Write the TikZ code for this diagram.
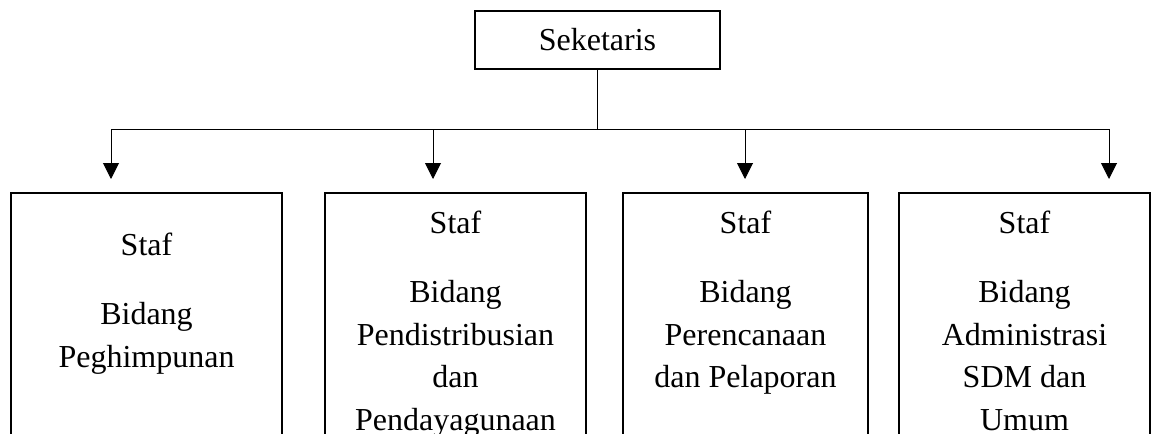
\documentclass[tikz,border=0pt]{standalone}
\usepackage{fontspec}
\setmainfont{Liberation Serif}
\usetikzlibrary{shapes,arrows.meta,positioning,calc}

\begin{document}
\begin{tikzpicture}[x=0.5pt,y=-0.5pt,
	headbox/.style={draw, line width=1pt, minimum width=122.5pt, minimum height=29pt, inner sep=0pt, font=\fontsize{16}{21.25}\selectfont},
	staffbox/.style={draw, line width=1pt, anchor=north, minimum height=144pt, inner sep=0pt},
	stafftext/.style={anchor=north, align=center, inner sep=0pt, font=\fontsize{16}{21.25}\selectfont},
	link/.style={line width=0.5pt},
	down/.style={link, -{Triangle[width=8pt,length=8pt]}}]
	\useasboundingbox (0,0) rectangle (1153,434);
	\clip (0,0) rectangle (1153,434);
	% head
	\node[headbox] (head) at (597.5,40) {Seketaris};
	% staff boxes
	\node[staffbox, minimum width=135.5pt] (s1) at (146.5,192) {};
	\node[staffbox, minimum width=130.5pt] (s2) at (455.5,192) {};
	\node[staffbox, minimum width=122.5pt] (s3) at (745.5,192) {};
	\node[staffbox, minimum width=125.5pt] (s4) at (1024.5,192) {};
	\node[stafftext] (t1) at (146.5,233) {Staf\\[13.25pt]Bidang\\Peghimpunan};
	\node[stafftext] (t2) at (455.5,211) {Staf\\[13.25pt]Bidang\\Pendistribusian\\dan\\Pendayagunaan};
	\node[stafftext] (t3) at (745.5,211) {Staf\\[13.25pt]Bidang\\Perencanaan\\dan Pelaporan};
	\node[stafftext] (t4) at (1024.5,211) {Staf\\[13.25pt]Bidang\\Administrasi\\SDM dan\\Umum};
	% connectors
	\coordinate (split) at (597.5,129);
	\coordinate (a1) at (111,129);
	\coordinate (a2) at (433,129);
	\coordinate (a3) at (745,129);
	\coordinate (a4) at (1109,129);
	\coordinate (b1) at (111,179);
	\coordinate (b2) at (433,179);
	\coordinate (b3) at (745,179);
	\coordinate (b4) at (1109,179);
	\draw[link] (head.south) -- (split);
	\draw[link] (a1) -- (a4);
	\draw[down] (a1) -- (b1);
	\draw[down] (a2) -- (b2);
	\draw[down] (a3) -- (b3);
	\draw[down] (a4) -- (b4);
\end{tikzpicture}
\end{document}
